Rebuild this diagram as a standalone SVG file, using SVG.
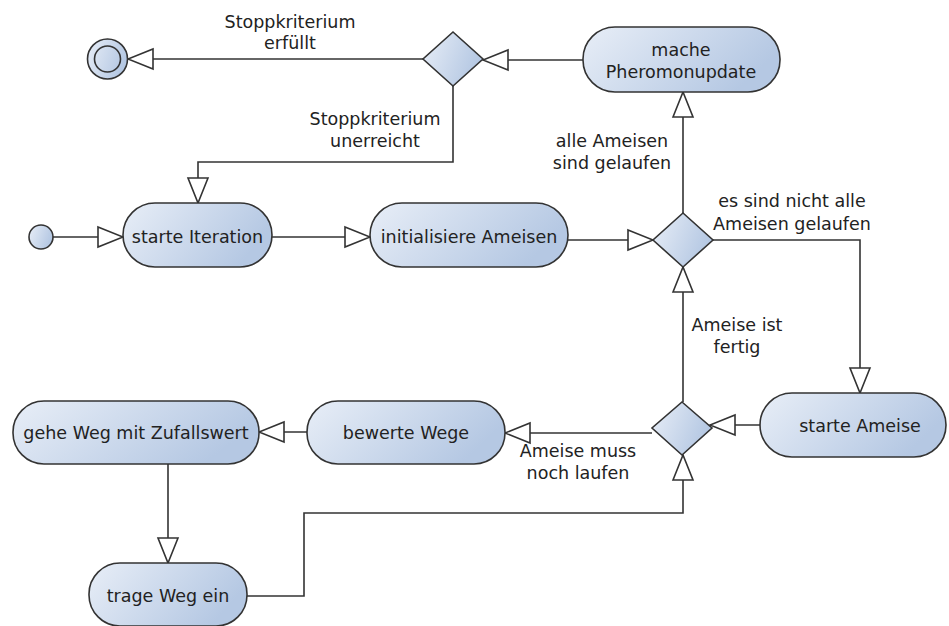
<svg xmlns="http://www.w3.org/2000/svg" width="949" height="626" viewBox="0 0 949 626">
<style>
.node{fill:url(#g);stroke:#333;stroke-width:1.6}
.t{font-family:"DejaVu Sans",sans-serif;font-size:17.5px;fill:#222;text-anchor:middle}
.c{fill:none;stroke:#333;stroke-width:1.6;marker-end:url(#ah)}
</style>
<defs>
<linearGradient id="g" x1="0" y1="0" x2="1" y2="0.35">
<stop offset="0" stop-color="#e8eef7"/>
<stop offset="1" stop-color="#b5c8e3"/>
</linearGradient>
<marker id="ah" markerUnits="userSpaceOnUse" viewBox="-2 -2 29 24" markerWidth="29" markerHeight="24" refX="25" refY="10" orient="auto">
<path d="M0,0 L25,10 L0,20 Z" fill="#fff" stroke="#333" stroke-width="1.6"/>
</marker>
</defs>
<rect width="949" height="626" fill="#fff"/>
<g id="connectors">
<path class="c" d="M53,237 H123"/>
<path class="c" d="M272,237 H370"/>
<path class="c" d="M568,240 H653"/>
<path class="c" d="M683,213 V92"/>
<path class="c" d="M583,60 H483"/>
<path class="c" d="M423,59 H128"/>
<path class="c" d="M453,86 V162 H198 V203"/>
<path class="c" d="M713,240 H860 V393"/>
<path class="c" d="M760,425 H710"/>
<path class="c" d="M652,433 H505"/>
<path class="c" d="M307,432 H259"/>
<path class="c" d="M168,464 V563"/>
<path class="c" d="M247,596 H304 V513 H683 V455"/>
<path class="c" d="M683,402 V267"/>
</g>
<g id="labels">
<text class="t" x="290" y="28">Stoppkriterium</text>
<text class="t" x="290" y="49">erfüllt</text>
<text class="t" x="375" y="125">Stoppkriterium</text>
<text class="t" x="375" y="147">unerreicht</text>
<text class="t" x="612" y="147">alle Ameisen</text>
<text class="t" x="612" y="169">sind gelaufen</text>
<text class="t" x="792" y="207">es sind nicht alle</text>
<text class="t" x="792" y="230">Ameisen gelaufen</text>
<text class="t" x="737" y="331">Ameise ist</text>
<text class="t" x="737" y="353">fertig</text>
<text class="t" x="578" y="457">Ameise muss</text>
<text class="t" x="578" y="479">noch laufen</text>
</g>
<g id="start"><circle cx="41" cy="237" r="12" class="node"/></g>
<g id="end"><circle cx="107.5" cy="59" r="20" class="node"/><circle cx="107.5" cy="59" r="13" fill="none" stroke="#333" stroke-width="1.6"/></g>
<g id="dec-stop"><path class="node" d="M453,32 L483,59 L453,86 L423,59 Z"/></g>
<g id="dec-all"><path class="node" d="M683,213 L713,240 L683,267 L653,240 Z"/></g>
<g id="dec-ant"><path class="node" d="M682,402 L712,428 L682,455 L652,428 Z"/></g>
<g id="starte-iteration"><rect class="node" x="123" y="203" width="149" height="64" rx="32"/><text class="t" x="197.5" y="243">starte Iteration</text></g>
<g id="initialisiere"><rect class="node" x="370" y="203" width="198" height="64" rx="32"/><text class="t" x="469" y="243">initialisiere Ameisen</text></g>
<g id="pheromon"><rect class="node" x="583" y="27" width="197" height="65" rx="32"/><text class="t" x="681" y="56">mache</text><text class="t" x="681" y="78">Pheromonupdate</text></g>
<g id="starte-ameise"><rect class="node" x="760" y="393" width="186" height="64" rx="32"/><text class="t" x="860" y="432">starte Ameise</text></g>
<g id="bewerte"><rect class="node" x="307" y="401" width="198" height="63" rx="31"/><text class="t" x="406" y="439">bewerte Wege</text></g>
<g id="gehe"><rect class="node" x="13" y="401" width="246" height="63" rx="31"/><text class="t" x="136" y="439">gehe Weg mit Zufallswert</text></g>
<g id="trage"><rect class="node" x="89" y="563" width="158" height="63" rx="31"/><text class="t" x="168" y="602">trage Weg ein</text></g>
</svg>
